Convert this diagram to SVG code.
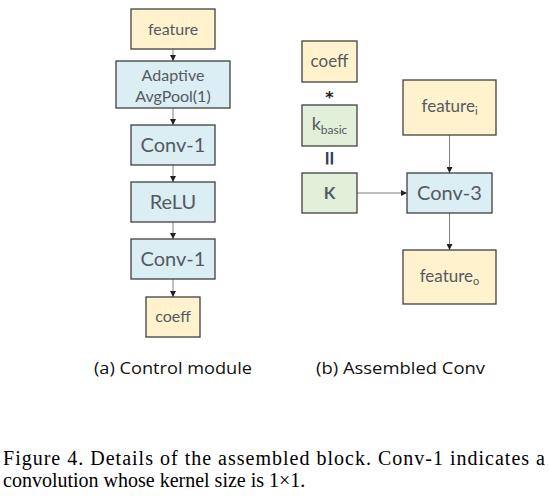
<svg xmlns="http://www.w3.org/2000/svg" width="549" height="496" viewBox="0 0 549 496">
<defs>
<marker id="ah" viewBox="0 0 6 6" refX="6" refY="3" markerWidth="6" markerHeight="6" orient="auto" markerUnits="userSpaceOnUse">
<path d="M0,0 L6,3 L0,6 z" fill="#222"/>
</marker>
<style>
.y{fill:#FFF2CC;stroke:#404040;stroke-width:1.3}
.b{fill:#DAEEF3;stroke:#404040;stroke-width:1.3}
.g{fill:#E2F0D9;stroke:#404040;stroke-width:1.3}
.t{font-family:Lato,"Noto Sans",sans-serif;fill:#555a62;text-anchor:middle}
.c{stroke:#808080;stroke-width:1;fill:none;marker-end:url(#ah)}
.cap{font-family:"Open Sans","Noto Sans",sans-serif;font-size:16.5px;fill:#111}
.fig{font-family:"Liberation Serif",serif;font-size:20px;fill:#000}
</style>
</defs>
<rect width="549" height="496" fill="#fff"/>
<g id="connectors">
<line class="c" x1="173" y1="49" x2="173" y2="61"/>
<line class="c" x1="173" y1="108" x2="173" y2="125"/>
<line class="c" x1="173" y1="165" x2="173" y2="182"/>
<line class="c" x1="173" y1="222" x2="173" y2="239"/>
<line class="c" x1="173" y1="279" x2="173" y2="297"/>
<line class="c" x1="449.5" y1="135" x2="449.5" y2="173"/>
<line class="c" x1="449.5" y1="213" x2="449.5" y2="250"/>
<line class="c" x1="357" y1="193" x2="407" y2="193"/>
</g>
<g id="feature"><rect class="y" x="131" y="9" width="84" height="40"/><text class="t" x="173" y="35" font-size="16">feature</text></g>
<g id="avgpool"><rect class="b" x="116" y="61" width="114" height="47"/><text class="t" x="173" y="81" font-size="16">Adaptive</text><text class="t" x="173" y="102" font-size="16">AvgPool(1)</text></g>
<g id="conv1a"><rect class="b" x="131" y="125" width="84" height="40"/><text class="t" x="173" y="152" font-size="20">Conv-1</text></g>
<g id="relu"><rect class="b" x="131" y="182" width="84" height="40"/><text class="t" x="173" y="209" font-size="20">ReLU</text></g>
<g id="conv1b"><rect class="b" x="131" y="239" width="84" height="40"/><text class="t" x="173" y="266" font-size="20">Conv-1</text></g>
<g id="coeff_out"><rect class="y" x="146" y="297" width="54" height="40"/><text class="t" x="173" y="322" font-size="16">coeff</text></g>
<g id="coeff"><rect class="y" x="302" y="41" width="55" height="41"/><text class="t" x="329.5" y="67" font-size="17">coeff</text></g>
<g id="star"><text x="329.5" y="103" font-family="'DejaVu Sans',sans-serif" font-size="16" font-weight="bold" text-anchor="middle" fill="#222">*</text></g>
<g id="kbasic"><rect class="g" x="302" y="105" width="55" height="41"/><text class="t" x="329.5" y="130" font-size="18">k<tspan font-size="12" dy="4">basic</tspan></text></g>
<g id="equals"><text x="0" y="0" transform="translate(329.5,158) rotate(90)" font-family="'DejaVu Sans',sans-serif" font-size="20" font-weight="bold" text-anchor="middle" dominant-baseline="central" fill="#3a3a5a">=</text></g>
<g id="K"><rect class="g" x="302" y="173" width="55" height="40"/><text class="t" x="329.5" y="199" font-size="17" font-weight="bold">K</text></g>
<g id="feature_i"><rect class="y" x="403" y="80" width="93" height="55"/><text class="t" x="449.5" y="112" font-size="17">feature<tspan font-size="11" dy="3">i</tspan></text></g>
<g id="conv3"><rect class="b" x="407" y="173" width="85" height="40"/><text class="t" x="449.5" y="200" font-size="20">Conv-3</text></g>
<g id="feature_o"><rect class="y" x="403" y="250" width="93" height="54"/><text class="t" x="449.5" y="282" font-size="17">feature<tspan font-size="11" dy="3">o</tspan></text></g>
<g id="captions">
<text class="cap" x="94" y="374" textLength="158" lengthAdjust="spacingAndGlyphs">(a) Control module</text>
<text class="cap" x="316" y="374" textLength="169" lengthAdjust="spacingAndGlyphs">(b) Assembled Conv</text>
<text class="fig" x="3" y="465" textLength="542" lengthAdjust="spacing">Figure 4.  Details of the assembled block.  Conv-1 indicates a</text>
<text class="fig" x="3" y="487">convolution whose kernel size is 1×1.</text>
</g>
</svg>
